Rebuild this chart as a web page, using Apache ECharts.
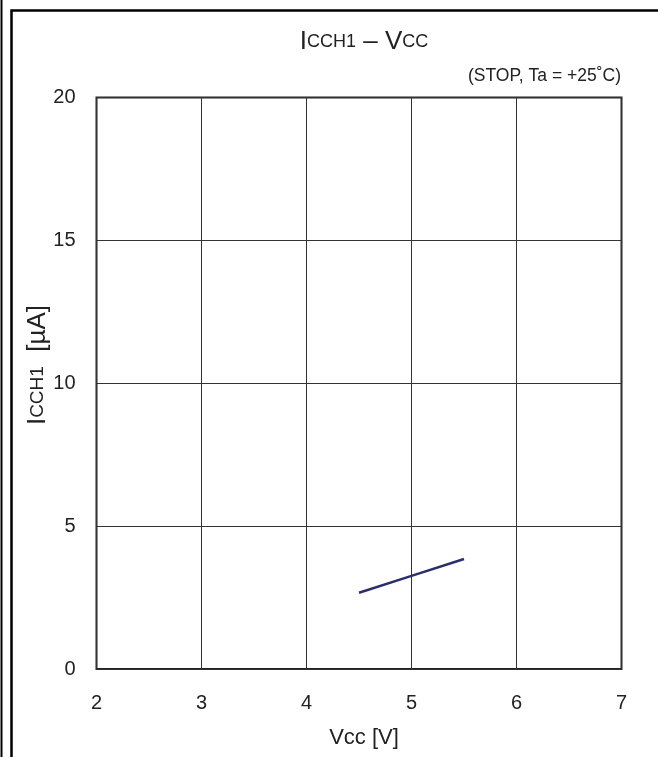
<!DOCTYPE html>
<html>
<head>
<meta charset="utf-8">
<script src="https://cdn.jsdelivr.net/npm/echarts@6/dist/echarts.min.js"></script>
<style>
html,body{margin:0;padding:0;background:#fff;}
#c{width:658px;height:757px;}
</style>
</head>
<body>
<div id="c"></div>
<script>
var vccValues = [4.5, 5.0, 5.5];
var icch1Values = [2.67, 3.26, 3.85];
var xTicks = [2, 3, 4, 5, 6, 7];
var yTicks = [0, 5, 10, 15, 20];

var FONT = 'Liberation Sans, Arial, sans-serif';
var chart = echarts.init(document.getElementById('c'), null, {renderer: 'canvas'});
var seriesData = vccValues.map(function (v, i) { return [v, icch1Values[i]]; });

chart.setOption({
  animation: false,
  backgroundColor: '#fff',
  grid: {left: 96.5, right: 36.5, top: 97.5, bottom: 88, show: true, borderColor: '#222', borderWidth: 2, backgroundColor: 'transparent'},
  xAxis: {
    type: 'value', min: xTicks[0], max: xTicks[xTicks.length - 1], interval: 1,
    axisLine: {show: false}, axisTick: {show: false},
    splitLine: {show: true, lineStyle: {color: '#333', width: 1}},
    axisLabel: {color: '#222', fontSize: 20, fontFamily: FONT, margin: 24}
  },
  yAxis: {
    type: 'value', min: yTicks[0], max: yTicks[yTicks.length - 1], interval: 5,
    axisLine: {show: false}, axisTick: {show: false},
    splitLine: {show: true, lineStyle: {color: '#333', width: 1}},
    axisLabel: {color: '#222', fontSize: 20, fontFamily: FONT, margin: 21}
  },
  series: [{
    type: 'line', data: seriesData, showSymbol: false, symbol: 'none',
    lineStyle: {color: '#2b2e6e', width: 2.5}
  }],
  graphic: [
    {type: 'line', shape: {x1: 1.5, y1: 0, x2: 1.5, y2: 757}, style: {stroke: '#000', lineWidth: 2}},
    {type: 'rect', shape: {x: 11.5, y: 10.5, width: 700, height: 800}, style: {fill: 'none', stroke: '#000', lineWidth: 2.5}},
    {type: 'text', x: 364, y: 42, style: {
      text: '{b|I}{s|CCH1}{b| – V}{s|CC}', align: 'center', verticalAlign: 'middle',
      rich: {b: {fontSize: 26, fontFamily: FONT, fill: '#222'}, s: {fontSize: 18, fontFamily: FONT, fill: '#222'}}
    }},
    {type: 'text', x: 621, y: 76, style: {
      text: '(STOP, Ta = +25˚C)', align: 'right', verticalAlign: 'middle', fontSize: 17.5, fontFamily: FONT, fill: '#222'
    }},
    {type: 'text', x: 38, y: 365, rotation: Math.PI / 2, style: {
      text: '{b|I}{s|CCH1}{b|  [µA]}', align: 'center', verticalAlign: 'middle',
      rich: {b: {fontSize: 26, fontFamily: FONT, fill: '#222'}, s: {fontSize: 19, fontFamily: FONT, fill: '#222'}}
    }},
    {type: 'text', x: 364, y: 738, style: {
      text: 'Vcc [V]', align: 'center', verticalAlign: 'middle', fontSize: 22, fontFamily: FONT, fill: '#222'
    }}
  ]
});
</script>
</body>
</html>
